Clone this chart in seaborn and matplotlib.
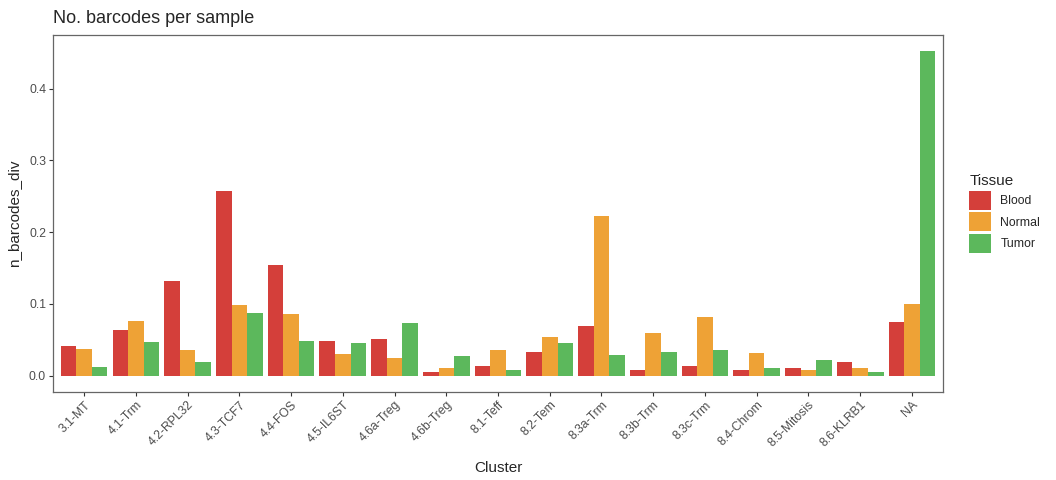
import matplotlib
matplotlib.use("Agg")
import matplotlib.pyplot as plt
import seaborn as sns
import pandas as pd

clusters = ["3.1-MT", "4.1-Trm", "4.2-RPL32", "4.3-TCF7", "4.4-FOS", "4.5-IL6ST",
            "4.6a-Treg", "4.6b-Treg", "8.1-Teff", "8.2-Tem", "8.3a-Trm", "8.3b-Trm",
            "8.3c-Trm", "8.4-Chrom", "8.5-Mitosis", "8.6-KLRB1", "NA"]
tissues = ["Blood", "Normal", "Tumor"]

blood = [0.041, 0.0635, 0.132, 0.258, 0.154, 0.048, 0.051, 0.0056, 0.0134, 0.033,
         0.069, 0.0079, 0.0134, 0.0079, 0.0107, 0.019, 0.0746]
normal = [0.037, 0.076, 0.0357, 0.098, 0.086, 0.030, 0.0246, 0.0107, 0.0357, 0.054,
          0.222, 0.0593, 0.0816, 0.0315, 0.0079, 0.0107, 0.0997]
tumor = [0.012, 0.047, 0.019, 0.087, 0.048, 0.045, 0.073, 0.027, 0.0079, 0.045,
         0.0287, 0.033, 0.0357, 0.0107, 0.0218, 0.0051, 0.452]

colors = ["#D43F3A", "#EEA236", "#5CB85C"]

df = pd.DataFrame({
    "Cluster": clusters * 3,
    "Tissue": [t for t in tissues for _ in clusters],
    "n_barcodes_div": blood + normal + tumor,
})

sns.set_style("white")
plt.rcParams["font.family"] = ["Liberation Sans", "DejaVu Sans"]

fig = plt.figure(figsize=(10.56, 4.8), dpi=100)
ax = fig.add_axes([0.0502, 0.1833, 0.8428, 0.7437])

sns.barplot(data=df, x="Cluster", y="n_barcodes_div", hue="Tissue",
            order=clusters, hue_order=tissues, palette=colors,
            width=0.9, gap=0, saturation=1, linewidth=0, ax=ax)

ax.set_xlim(-0.6, len(clusters) - 0.4)
ax.set_ylim(-0.0226, 0.4746)
ax.set_yticks([0.0, 0.1, 0.2, 0.3, 0.4])
ax.set_yticklabels(["0.0", "0.1", "0.2", "0.3", "0.4"])
ax.tick_params(axis="both", length=3, width=0.8, color="#333333",
               labelcolor="#4D4D4D", labelsize=8.8, direction="out", pad=2,
               bottom=True, left=True)
plt.setp(ax.get_xticklabels(), rotation=45, ha="right", rotation_mode="anchor")

for s in ax.spines.values():
    s.set_visible(True)
    s.set_color("#666666")
    s.set_linewidth(0.9)

ax.set_xlabel("Cluster", fontsize=11, labelpad=8)
ax.set_ylabel("n_barcodes_div", fontsize=11, labelpad=6)
ax.set_title("No. barcodes per sample", fontsize=13, loc="left", x=0, pad=9)

# legend with big square keys, like ggplot
handles, labels = ax.get_legend_handles_labels()
ax.legend(handles, labels, title="Tissue", loc="center left",
          bbox_to_anchor=(1.024, 0.5), frameon=False, fontsize=8.8,
          title_fontsize=11, handlelength=1.75, handleheight=2.0,
          labelspacing=0.22, handletextpad=0.8, borderaxespad=0)
ax.get_legend()._legend_box.align = "left"

fig.savefig("out.png", dpi=100)
